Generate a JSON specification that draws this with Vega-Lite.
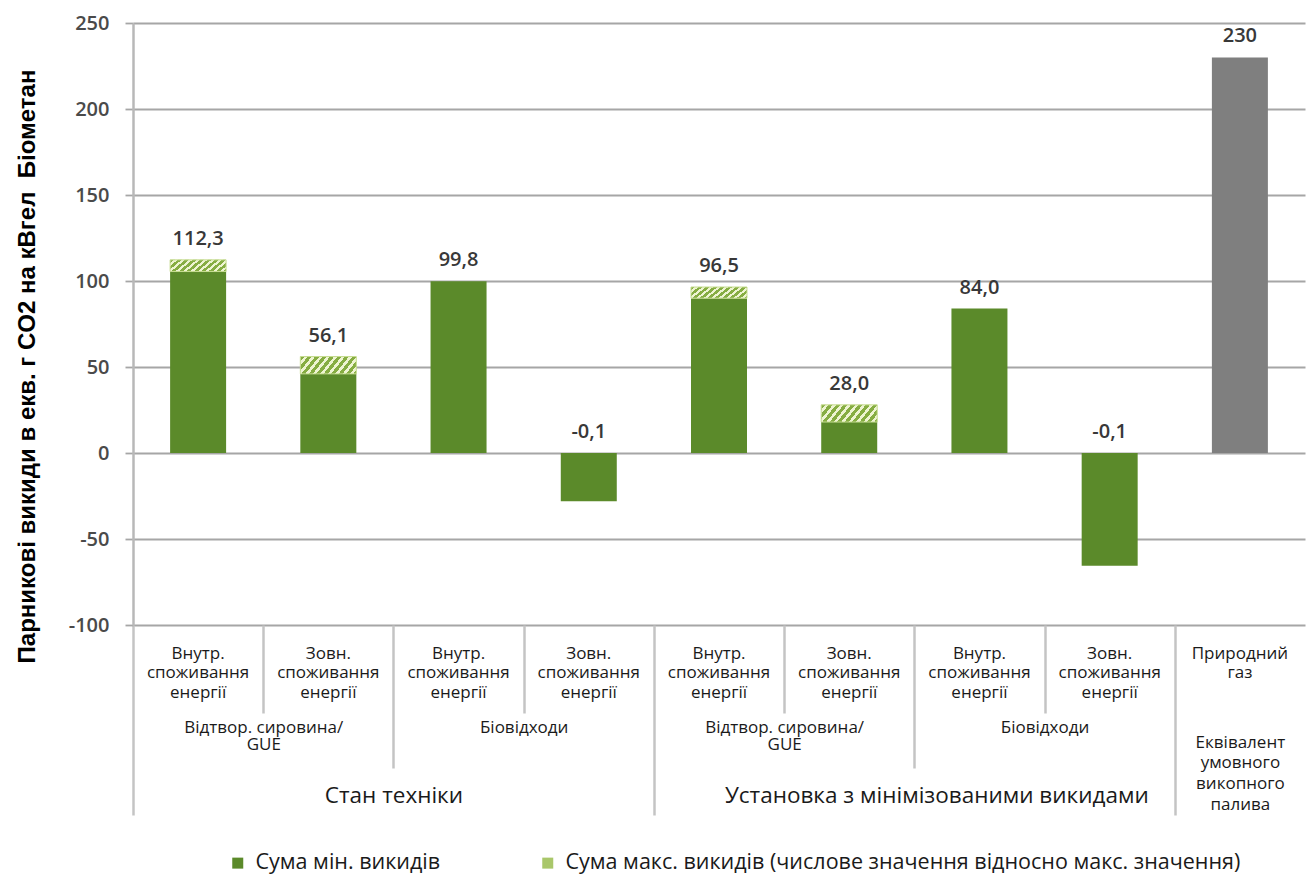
{
  "$schema": "https://vega.github.io/schema/vega-lite/v6.json",
  "width": 1172,
  "height": 602,
  "autosize": {"type": "none"},
  "padding": {"left": 133, "top": 23, "right": 1, "bottom": 254},
  "background": "white",
  "config": {
    "view": {"stroke": null},
    "font": "Open Sans",
    "locale": {"number": {"decimal": ",", "thousands": " ", "grouping": [3], "currency": ["", ""], "minus": "-"}}
  },
  "datasets": {
    "bars": [
      {"bar": "1|Внутр.|споживання|енергії", "series": "Сума мін. викидів", "base": 105.5, "top": 112.3},
      {"bar": "2|Зовн.|споживання|енергії", "series": "Сума мін. викидів", "base": 46, "top": 56.1},
      {"bar": "3|Внутр.|споживання|енергії", "series": "Сума мін. викидів", "base": 99.8, "top": 99.8},
      {"bar": "4|Зовн.|споживання|енергії", "series": "Сума мін. викидів", "base": -28, "top": -0.1},
      {"bar": "5|Внутр.|споживання|енергії", "series": "Сума мін. викидів", "base": 90, "top": 96.5},
      {"bar": "6|Зовн.|споживання|енергії", "series": "Сума мін. викидів", "base": 18, "top": 28.0},
      {"bar": "7|Внутр.|споживання|енергії", "series": "Сума мін. викидів", "base": 84, "top": 84.0},
      {"bar": "8|Зовн.|споживання|енергії", "series": "Сума мін. викидів", "base": -65.5, "top": -0.1},
      {"bar": "9|Природний|газ", "series": "Природний газ", "base": 230, "top": 230}
    ],
    "groups": [
      {"tier": "sub", "name": "Відтвор. сировина/GUE", "start": 0, "end": 2},
      {"tier": "sub", "name": "Біовідходи", "start": 2, "end": 4},
      {"tier": "sub", "name": "Відтвор. сировина/GUE", "start": 4, "end": 6},
      {"tier": "sub", "name": "Біовідходи", "start": 6, "end": 8},
      {"tier": "main", "name": "Стан техніки", "start": 0, "end": 4},
      {"tier": "main", "name": "Установка з мінімізованими викидами", "start": 4, "end": 8},
      {"tier": "main", "name": "Еквівалент умовного викопного палива", "start": 8, "end": 9}
    ]
  },
  "layer": [
    {
      "encoding": {
        "x": {
          "field": "bar",
          "type": "nominal",
          "title": null,
          "scale": {"paddingInner": 0.57, "paddingOuter": 0.285},
          "axis": {
            "orient": "bottom",
            "ticks": false,
            "domain": false,
            "grid": false,
            "labelAngle": 0,
            "labelOverlap": false,
            "labelLimit": 0,
            "labelExpr": "slice(split(datum.value, '|'), 1)",
            "labelFont": "Open Sans",
            "labelFontSize": 17,
            "labelColor": "#1a1a1a",
            "labelBaseline": "top",
            "labelLineHeight": 19.5,
            "labelPadding": 20
          }
        }
      },
      "layer": [
        {
          "data": {"name": "bars"},
          "mark": {"type": "bar"},
          "encoding": {
            "y": {
              "field": "base",
              "type": "quantitative",
              "scale": {"domain": [-100, 250], "nice": false, "zero": true},
              "axis": {
                "values": [-100, -50, 0, 50, 100, 150, 200, 250],
                "grid": true,
                "gridColor": "#a6a6a6",
                "gridWidth": 1.8,
                "tickColor": "#a6a6a6",
                "tickWidth": 1.8,
                "tickSize": 8,
                "domainColor": "#b8b8b8",
                "domainWidth": 2.5,
                "labelFont": "Open Sans",
                "labelFontSize": 20,
                "labelFontWeight": 600,
                "labelColor": "#4a4a4a",
                "labelPadding": 16,
                "title": "Парникові викиди в екв. г CO2 на кВгел\u00a0 Біометан",
                "titleFont": "Liberation Sans",
                "titleFontWeight": "bold",
                "titleFontSize": 24,
                "titleColor": "#000000",
                "titleAngle": 270,
                "titleAlign": "center",
                "titleBaseline": "middle",
                "titleX": -106,
                "titleY": 343
              }
            },
            "color": {
              "field": "series",
              "type": "nominal",
              "scale": {
                "domain": ["Сума мін. викидів", "Сума макс. викидів (числове значення відносно макс. значення)", "Природний газ"],
                "range": ["#5b8a2a", "#a9c76a", "#7f7f7f"]
              },
              "legend": {
                "values": ["Сума мін. викидів", "Сума макс. викидів (числове значення відносно макс. значення)"],
                "orient": "none",
                "direction": "horizontal",
                "legendX": 94,
                "legendY": 829,
                "title": null,
                "padding": 0,
                "symbolType": "square",
                "symbolSize": 121,
                "symbolStrokeWidth": 0,
                "labelFont": "Open Sans",
                "labelFontSize": 21.5,
                "labelColor": "#1a1a1a",
                "labelLimit": 0,
                "labelOffset": 7,
                "columnPadding": 96
              }
            }
          }
        },
        {
          "data": {"name": "bars"},
          "transform": [{"filter": "datum.top > datum.base && datum.base > 0"}],
          "mark": {
            "type": "bar",
            "stroke": "#c6dc90",
            "strokeWidth": 1,
            "fill": {"gradient": "linear", "x1": 0, "y1": 0, "x2": 1.25, "y2": 0.3125, "stops": [
              {"offset": 0, "color": "#86ad42"}, {"offset": 0.055, "color": "#86ad42"}, {"offset": 0.055, "color": "#eef4d2"}, {"offset": 0.1, "color": "#eef4d2"},
              {"offset": 0.1, "color": "#86ad42"}, {"offset": 0.155, "color": "#86ad42"}, {"offset": 0.155, "color": "#eef4d2"}, {"offset": 0.2, "color": "#eef4d2"},
              {"offset": 0.2, "color": "#86ad42"}, {"offset": 0.255, "color": "#86ad42"}, {"offset": 0.255, "color": "#eef4d2"}, {"offset": 0.3, "color": "#eef4d2"},
              {"offset": 0.3, "color": "#86ad42"}, {"offset": 0.355, "color": "#86ad42"}, {"offset": 0.355, "color": "#eef4d2"}, {"offset": 0.4, "color": "#eef4d2"},
              {"offset": 0.4, "color": "#86ad42"}, {"offset": 0.455, "color": "#86ad42"}, {"offset": 0.455, "color": "#eef4d2"}, {"offset": 0.5, "color": "#eef4d2"},
              {"offset": 0.5, "color": "#86ad42"}, {"offset": 0.555, "color": "#86ad42"}, {"offset": 0.555, "color": "#eef4d2"}, {"offset": 0.6, "color": "#eef4d2"},
              {"offset": 0.6, "color": "#86ad42"}, {"offset": 0.655, "color": "#86ad42"}, {"offset": 0.655, "color": "#eef4d2"}, {"offset": 0.7, "color": "#eef4d2"},
              {"offset": 0.7, "color": "#86ad42"}, {"offset": 0.755, "color": "#86ad42"}, {"offset": 0.755, "color": "#eef4d2"}, {"offset": 0.8, "color": "#eef4d2"},
              {"offset": 0.8, "color": "#86ad42"}, {"offset": 0.855, "color": "#86ad42"}, {"offset": 0.855, "color": "#eef4d2"}, {"offset": 0.9, "color": "#eef4d2"},
              {"offset": 0.9, "color": "#86ad42"}, {"offset": 0.955, "color": "#86ad42"}, {"offset": 0.955, "color": "#eef4d2"}, {"offset": 1, "color": "#eef4d2"}]}
          },
          "encoding": {
            "y": {"field": "base", "type": "quantitative"},
            "y2": {"field": "top"}
          }
        },
        {
          "data": {"name": "bars"},
          "mark": {"type": "text", "baseline": "bottom", "dy": -11, "font": "Open Sans", "fontSize": 20, "fontWeight": 600, "color": "#383838"},
          "encoding": {
            "y": {"field": "top", "type": "quantitative"},
            "text": {
              "condition": {"test": "datum.series == 'Природний газ'", "field": "top", "type": "quantitative", "format": "d"},
              "field": "top",
              "type": "quantitative",
              "format": ".1f"
            }
          }
        }
      ]
    },
    {
      "data": {"name": "groups"},
      "mark": {"type": "point", "opacity": 0},
      "encoding": {
        "x": {
          "field": "start",
          "type": "quantitative",
          "title": null,
          "scale": {"domain": [0, 9], "nice": false, "zero": false},
          "axis": {
            "orient": "bottom",
            "values": [0, 1, 2, 3, 4, 5, 6, 7, 8],
            "labels": false,
            "domain": false,
            "grid": false,
            "ticks": true,
            "tickColor": "#c4c4c4",
            "tickWidth": 2.5,
            "tickSize": {
              "condition": [
                {"test": "datum.value == 0 || datum.value == 4 || datum.value == 8", "value": 190},
                {"test": "datum.value == 2 || datum.value == 6", "value": 143}
              ],
              "value": 88
            }
          }
        }
      }
    },
    {
      "data": {"name": "groups"},
      "mark": {"type": "point", "opacity": 0},
      "encoding": {
        "x": {
          "field": "end",
          "type": "quantitative",
          "title": null,
          "scale": {"domain": [0, 9], "nice": false, "zero": false},
          "axis": {
            "orient": "bottom",
            "values": [1, 3, 5, 7],
            "labelExpr": "datum.value == 1 || datum.value == 5 ? ['Відтвор. сировина/', 'GUE'] : 'Біовідходи'",
            "domain": false,
            "grid": false,
            "ticks": false,
            "labelOverlap": false,
            "labelLimit": 0,
            "labelFont": "Open Sans",
            "labelFontSize": 17,
            "labelColor": "#1a1a1a",
            "labelBaseline": "top",
            "labelLineHeight": 17.5,
            "labelPadding": 94
          }
        }
      }
    },
    {
      "data": {"name": "groups"},
      "mark": {"type": "point", "opacity": 0},
      "encoding": {
        "x": {
          "field": "start",
          "type": "quantitative",
          "title": null,
          "scale": {"domain": [0, 9], "nice": false, "zero": false},
          "axis": {
            "orient": "bottom",
            "values": [2, 6, 8.5],
            "labelExpr": "datum.value == 2 ? 'Стан техніки' : datum.value == 6 ? 'Установка з мінімізованими викидами' : ['Еквівалент', 'умовного', 'викопного', 'палива']",
            "domain": false,
            "grid": false,
            "ticks": false,
            "labelOverlap": false,
            "labelLimit": 0,
            "labelFont": "Open Sans",
            "labelFontSize": {"condition": {"test": "datum.value == 8.5", "value": 17}, "value": 22.5},
            "labelOffset": {"condition": {"test": "datum.value == 6", "value": 22}, "value": 0},
            "labelColor": "#1a1a1a",
            "labelBaseline": "top",
            "labelLineHeight": 20.7,
            "labelPadding": {"condition": {"test": "datum.value == 8.5", "value": 109}, "value": 159}
          }
        }
      }
    }
  ],
  "resolve": {"scale": {"x": "independent"}}
}
